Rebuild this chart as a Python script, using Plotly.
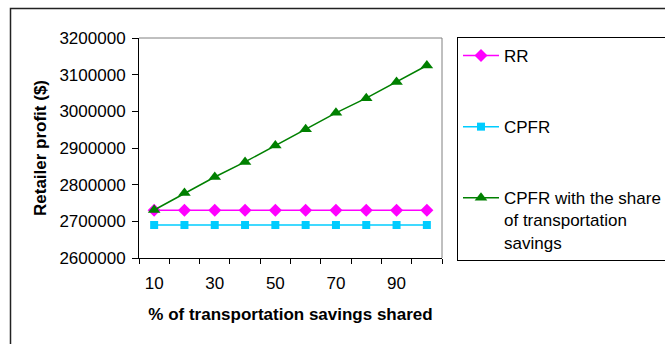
import plotly.graph_objects as go

categories = ["10", "20", "30", "40", "50", "60", "70", "80", "90", "100"]
tick_labels = ["10", "", "30", "", "50", "", "70", "", "90", ""]
rr = [2730000] * 10
cpfr = [2690000] * 10
cpfr_share = [2731000, 2777000, 2821000, 2862000, 2907000, 2951000, 2996000, 3036000, 3080000, 3125000]
y_ticks = [2600000, 2700000, 2800000, 2900000, 3000000, 3100000, 3200000]

FONT = "Arial, Liberation Sans, sans-serif"
FS = 17
W, H = 665, 344
L, R, T, B = 139, 442, 38, 258  # plot area in pixels

def px(x):
    return (x - L) / (R - L)

def py(y):
    return (B - y) / (B - T)

fig = go.Figure()
fig.add_trace(go.Scatter(x=categories, y=rr, name="RR", mode="lines+markers",
                         line=dict(color="#FF00FF", width=1.5),
                         marker=dict(symbol="diamond", size=10, color="#FF00FF"),
                         legendgroup="a"))
fig.add_trace(go.Scatter(x=categories, y=cpfr, name="CPFR", mode="lines+markers",
                         line=dict(color="#00CCFF", width=1.5),
                         marker=dict(symbol="square", size=8, color="#00CCFF"),
                         legendgroup="b"))
fig.add_trace(go.Scatter(x=categories, y=cpfr_share,
                         name="CPFR with the share\u00a0\u00a0\u00a0\u00a0<br>of transportation<br>savings",
                         mode="lines+markers",
                         line=dict(color="#008000", width=1.5),
                         marker=dict(symbol="triangle-up", size=11, color="#008000"),
                         legendgroup="c"))

fig.update_layout(
    width=W, height=H,
    margin=dict(l=L, r=W - R, t=T, b=H - B, autoexpand=False),
    paper_bgcolor="white", plot_bgcolor="white",
    font=dict(family=FONT, size=FS, color="black"),
    xaxis=dict(type="category", tickvals=categories, ticktext=tick_labels,
               tickson="boundaries", ticks="outside", ticklen=5, tickcolor="black",
               showline=True, linecolor="black", linewidth=1, showgrid=False,
               range=[-0.5, 9.5], tickangle=0, ticklabelstandoff=10,
               title=dict(text="<b>% of transportation savings shared</b>",
                          font=dict(size=FS), standoff=15)),
    yaxis=dict(range=[2600000, 3200000], tickvals=y_ticks,
               ticktext=[str(v) for v in y_ticks],
               ticks="outside", ticklen=6, tickcolor="black", ticklabelstandoff=3,
               showline=True, linecolor="black", linewidth=1, showgrid=False,
               zeroline=False,
               title=dict(text="<b>Retailer profit ($)</b>", font=dict(size=FS), standoff=8)),
    legend=dict(x=px(457), y=py(37), xanchor="left", yanchor="top",
                bordercolor="black", borderwidth=1, bgcolor="white",
                font=dict(size=FS), valign="top", tracegroupgap=46,
                itemwidth=36, maxheight=1),
    showlegend=True,
)

shapes = [
    dict(type="line", xref="paper", yref="paper", x0=0, x1=1, y0=1, y1=1,
         line=dict(color="#808080", width=1)),
    dict(type="line", xref="paper", yref="paper", x0=1, x1=1, y0=0, y1=1,
         line=dict(color="#808080", width=1)),
    dict(type="rect", xref="paper", yref="paper",
         x0=px(10.5), x1=px(700), y0=py(380), y1=py(8.5),
         line=dict(color="#222222", width=1.5), layer="below"),
]
fig.update_layout(shapes=shapes)

fig.write_html("out.html", config={"displayModeBar": False},
               post_script="document.body.style.margin='0px';")
